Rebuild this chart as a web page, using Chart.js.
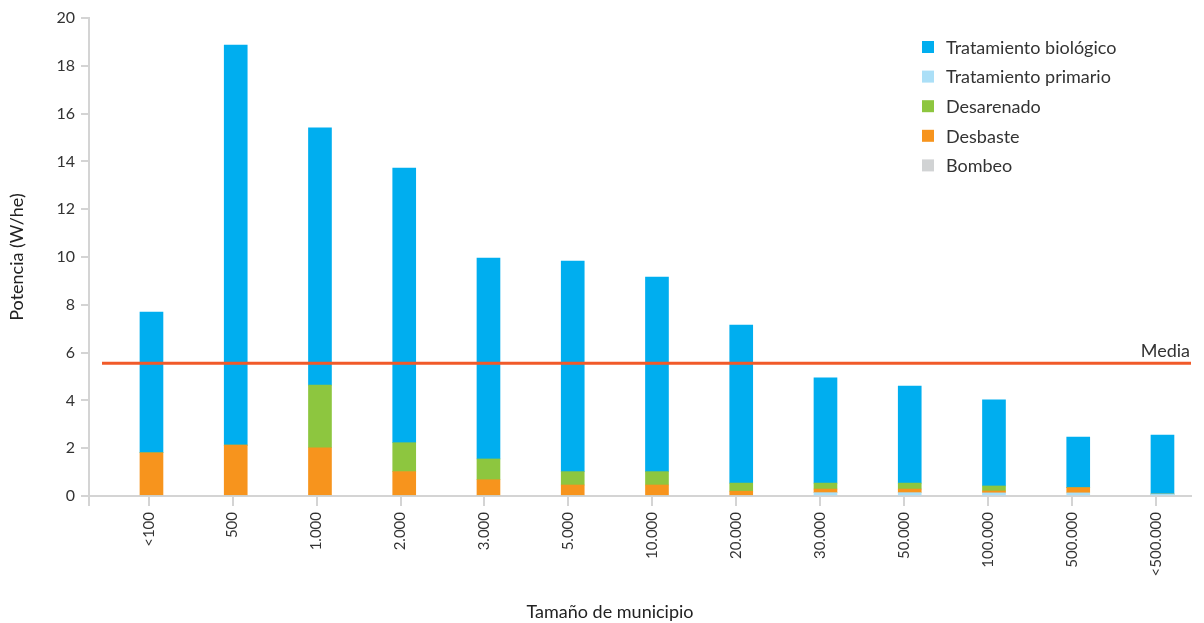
<!DOCTYPE html>
<html>
<head>
<meta charset="utf-8">
<script src="https://cdn.jsdelivr.net/npm/chart.js@4.4.1/dist/chart.umd.min.js"></script>
<style>
  html, body { margin: 0; padding: 0; background: #ffffff; }
  #wrap { width: 1204px; height: 623px; position: relative; }
</style>
</head>
<body>
<div id="wrap"><canvas id="c"></canvas></div>
<script>
// ---- Data ----
const categories = ['<100', '500', '1.000', '2.000', '3.000', '5.000', '10.000', '20.000', '30.000', '50.000', '100.000', '500.000', '<500.000'];
const bombeo      = [0, 0, 0, 0, 0, 0, 0, 0, 0, 0, 0, 0, 0];
const primario    = [0, 0, 0, 0, 0, 0, 0, 0, 0.14, 0.14, 0.13, 0.13, 0.08];
const desbaste    = [1.81, 2.13, 2.02, 1.02, 0.68, 0.46, 0.46, 0.20, 0.15, 0.15, 0.08, 0.22, 0];
const desarenado  = [0, 0, 2.62, 1.21, 0.87, 0.56, 0.56, 0.34, 0.25, 0.25, 0.21, 0, 0];
const biologico   = [5.89, 16.74, 10.76, 11.49, 8.41, 8.81, 8.14, 6.61, 4.40, 4.06, 3.60, 2.12, 2.47];
const mediaValue  = 5.55;
const yTicks      = [0, 2, 4, 6, 8, 10, 12, 14, 16, 18, 20];
const yTitle = 'Potencia (W/he)';
const xTitle = 'Tamaño de municipio';
const mediaLabel = 'Media';

const seriesNames = {
  bio: 'Tratamiento biológico',
  prim: 'Tratamiento primario',
  arena: 'Desarenado',
  desb: 'Desbaste',
  bomb: 'Bombeo'
};
const colors = {
  bio: '#00aeef',
  prim: '#abdff7',
  arena: '#8dc63f',
  desb: '#f7941d',
  bomb: '#d1d3d4',
  media: '#f15a29',
  axis: '#d4d4d4',
  text: '#333333'
};
const legendOrder = ['bio', 'prim', 'arena', 'desb', 'bomb'];

const FONT = 'Lato, "Open Sans", sans-serif';

function pts(arr) { return arr.map((v, i) => ({ x: i, y: v })); }

const barCommon = { type: 'bar', barThickness: 23, stack: 'main', borderWidth: 0, xAxisID: 'xb' };

const datasets = [
  {
    type: 'line', key: 'media', label: mediaLabel, stack: 'media', xAxisID: 'x',
    data: [{ x: -0.556, y: mediaValue }, { x: 12.417, y: mediaValue }],
    borderColor: colors.media, borderWidth: 3, pointRadius: 0, fill: false, tension: 0
  },
  Object.assign({ key: 'bomb', label: seriesNames.bomb, data: pts(bombeo), backgroundColor: colors.bomb }, barCommon),
  Object.assign({ key: 'prim', label: seriesNames.prim, data: pts(primario), backgroundColor: colors.prim }, barCommon),
  Object.assign({ key: 'desb', label: seriesNames.desb, data: pts(desbaste), backgroundColor: colors.desb }, barCommon),
  Object.assign({ key: 'arena', label: seriesNames.arena, data: pts(desarenado), backgroundColor: colors.arena }, barCommon),
  Object.assign({ key: 'bio', label: seriesNames.bio, data: pts(biologico), backgroundColor: colors.bio }, barCommon)
];

const extrasPlugin = {
  id: 'extras',
  afterDraw(chart) {
    const ctx = chart.ctx;
    const area = chart.chartArea;
    const ys = chart.scales.y;
    ctx.save();
    // y axis line extension below zero
    ctx.strokeStyle = colors.axis;
    ctx.lineWidth = 2;
    ctx.beginPath();
    ctx.moveTo(area.left, area.bottom);
    ctx.lineTo(area.left, area.bottom + 10);
    ctx.stroke();

    // Legend
    ctx.font = '18px ' + FONT;
    ctx.textBaseline = 'middle';
    ctx.textAlign = 'left';
    legendOrder.forEach((k, i) => {
      const y = 47 + i * 29.6;
      ctx.fillStyle = colors[k];
      ctx.fillRect(922, y - 6, 12, 12);
      ctx.fillStyle = colors.text;
      ctx.fillText(seriesNames[k], 946, y + 1);
    });

    // Media label
    const my = ys.getPixelForValue(mediaValue);
    ctx.font = '18px ' + FONT;
    ctx.textAlign = 'right';
    ctx.textBaseline = 'alphabetic';
    ctx.fillStyle = colors.text;
    ctx.fillText(mediaLabel, 1190, my - 6);

    // X title
    ctx.font = '18px ' + FONT;
    ctx.textAlign = 'center';
    ctx.textBaseline = 'middle';
    ctx.fillStyle = '#222';
    ctx.fillText(xTitle, 610, 612);
    ctx.restore();
  }
};

new Chart(document.getElementById('c'), {
  type: 'bar',
  data: { datasets },
  plugins: [extrasPlugin],
  options: {
    responsive: true,
    maintainAspectRatio: false,
    animation: false,
    layout: { padding: { top: 18, right: 13, bottom: 0, left: 0 } },
    plugins: { legend: { display: false }, tooltip: { enabled: false } },
    scales: {
      x: {
        type: 'linear',
        min: -0.711,
        max: 12.417,
        offset: false,
        afterBuildTicks(scale) { scale.ticks = categories.map((_, i) => ({ value: i })); },
        afterFit(scale) { scale.height = 127; },
        grid: { display: true, offset: false, drawOnChartArea: false, drawTicks: true, tickLength: 10, color: colors.axis, lineWidth: 2 },
        border: { display: true, color: colors.axis, width: 2 },
        ticks: {
          autoSkip: false, maxRotation: 90, minRotation: 90, padding: 6,
          color: colors.text, font: { family: FONT, size: 15 },
          callback: (v) => categories[v]
        }
      },
      xb: {
        type: 'linear',
        position: 'bottom',
        display: false,
        min: -0.605,
        max: 12.475,
        offset: false,
        stacked: true,
        grid: { offset: false }
      },
      y: {
        type: 'linear',
        stacked: true,
        min: 0, max: 20,
        afterBuildTicks(scale) { scale.ticks = yTicks.map(v => ({ value: v })); },
        afterFit(scale) { scale.width = 89; },
        grid: { display: true, drawOnChartArea: false, drawTicks: true, tickLength: 8, color: colors.axis, lineWidth: 2 },
        border: { display: true, color: colors.axis, width: 2 },
        ticks: { padding: 6, color: colors.text, font: { family: FONT, size: 16 } },
        title: { display: true, text: yTitle, color: '#222', font: { family: FONT, size: 18 }, padding: { top: 6, bottom: 0 } }
      }
    }
  }
});
</script>
</body>
</html>
